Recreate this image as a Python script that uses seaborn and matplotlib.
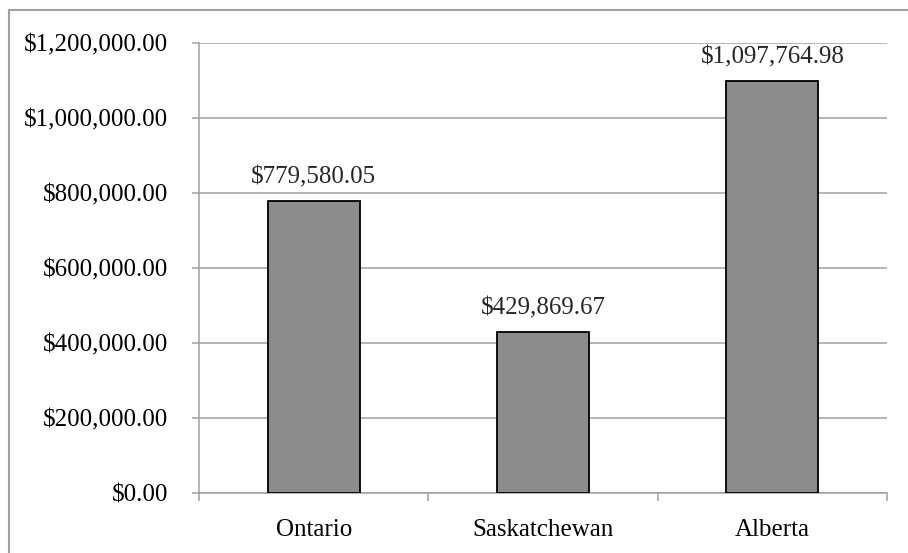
import matplotlib
matplotlib.use("Agg")
import matplotlib.pyplot as plt
import seaborn as sns
import pandas as pd
from matplotlib.ticker import FuncFormatter, FixedLocator
from matplotlib.lines import Line2D

provinces = ["Ontario", "Saskatchewan", "Alberta"]
amounts = [779580.05, 429869.67, 1097764.98]
y_ticks = [0, 200000, 400000, 600000, 800000, 1000000, 1200000]

df = pd.DataFrame({"province": provinces, "amount": amounts})

sns.set_style("white")
plt.rcParams["font.family"] = ["Liberation Serif", "DejaVu Serif"]

grid_col = "#a0a0a0"
fs = 18

fig = plt.figure(figsize=(9.08, 5.53), dpi=100)
ax = fig.add_axes([199 / 908, 1 - 493 / 553, (887 - 199) / 908, (493 - 43) / 553])

sns.barplot(data=df, x="province", y="amount", color="#8c8c8c", width=0.4,
            edgecolor="black", linewidth=1.3, saturation=1, ax=ax, zorder=3)

ax.set_xlim(-0.5, 2.5)
ax.set_ylim(0, 1200000)
ax.set_yticks(y_ticks)
ax.yaxis.set_major_formatter(FuncFormatter(lambda v, p: f"${v:,.2f}"))
ax.yaxis.grid(True, color=grid_col, linewidth=1.1, zorder=0)
ax.set_axisbelow(True)
ax.set_xlabel("")
ax.set_ylabel("")

for s in ["top", "right"]:
    ax.spines[s].set_visible(False)
for s in ["left", "bottom"]:
    ax.spines[s].set_color(grid_col)
    ax.spines[s].set_linewidth(1.1)

ax.tick_params(axis="y", which="major", length=5, width=1.1, color=grid_col,
               pad=17, labelsize=fs, labelcolor="black", left=True)
ax.tick_params(axis="x", which="major", length=0, pad=19, labelsize=fs,
               labelcolor="black", bottom=True)
ax.xaxis.set_minor_locator(FixedLocator([-0.5, 0.5, 1.5, 2.5]))
ax.tick_params(axis="x", which="minor", length=6, width=1.1, color=grid_col,
               bottom=True)

for i, v in enumerate(amounts):
    ax.annotate(f"${v:,.2f}", (i, v), xytext=(0, 9), textcoords="offset points",
                ha="center", va="bottom", fontsize=fs)

# chart area border (only left and top visible in the crop)
fig.add_artist(Line2D([8.5 / 908, 8.5 / 908], [0, 1 - 10 / 553],
                      transform=fig.transFigure, color=grid_col, linewidth=1.5))
fig.add_artist(Line2D([8.5 / 908, 1], [1 - 10 / 553, 1 - 10 / 553],
                      transform=fig.transFigure, color=grid_col, linewidth=1.5))

fig.savefig("out.png", dpi=100)
